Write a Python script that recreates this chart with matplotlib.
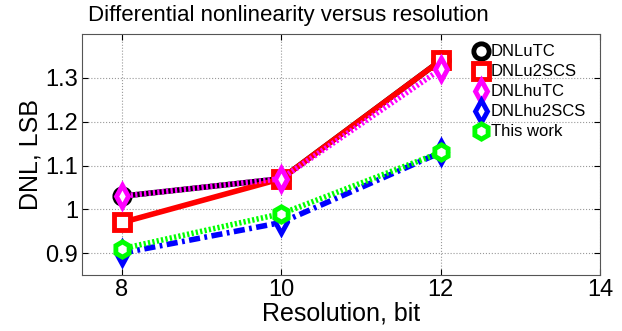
import matplotlib
matplotlib.use("Agg")
import matplotlib.pyplot as plt

plt.rcParams['font.family'] = ['Liberation Sans', 'DejaVu Sans']

resolution = [8, 10, 12]
dnl_utc = [1.03, 1.07, 1.34]
dnl_u2scs = [0.97, 1.07, 1.34]
dnl_hutc = [1.03, 1.07, 1.32]
dnl_hu2scs = [0.90, 0.97, 1.13]
this_work = [0.91, 0.99, 1.13]

xticks = [8, 10, 12, 14]
yticks = [0.9, 1.0, 1.1, 1.2, 1.3]
ytick_labels = ["0.9", "1", "1.1", "1.2", "1.3"]

fig, ax = plt.subplots(figsize=(6.22, 3.31), dpi=100)
fig.subplots_adjust(left=0.132, right=0.965, top=0.897, bottom=0.169)

mk = dict(markersize=11, markeredgewidth=3.5, markerfacecolor='white', linewidth=4)
dotted = (0, (0.4, 0.4))
dashdot = (0, (2.0, 0.8, 0.5, 0.8))
ax.plot(resolution, dnl_utc, '-', marker='o', color='black', label='DNLuTC', **mk)
ax.plot(resolution, dnl_u2scs, '-', marker='s', color='red', label='DNLu2SCS', **mk)
ax.plot(resolution, dnl_hutc, linestyle=dotted, marker='d', color='magenta', label='DNLhuTC', **mk)
ax.plot(resolution, dnl_hu2scs, linestyle=dashdot, marker='d', color='blue', label='DNLhu2SCS', **mk)
ax.plot(resolution, this_work, linestyle=dotted, marker='h', color='#00ff00', label='This work', **mk)

ax.set_xlim(7.5, 14)
ax.set_ylim(0.85, 1.4)
ax.set_xticks(xticks)
ax.set_yticks(yticks)
ax.set_yticklabels(ytick_labels)
ax.tick_params(direction='in', labelsize=17, top=True, right=True, length=4, pad=3)
ax.grid(True, linestyle=':', color='#999999', linewidth=0.8)
for s in ax.spines.values():
    s.set_color('#555555')

ax.set_xlabel("Resolution, bit", fontsize=18, labelpad=0)
ax.set_ylabel("DNL, LSB", fontsize=18, labelpad=2)
fig.text(0.463, 0.952, "Differential nonlinearity versus resolution",
         fontsize=16, ha='center', va='center')

ax.legend(loc='upper right', frameon=False, fontsize=12, handlelength=0.5,
          handletextpad=0.3, labelspacing=0.3, borderaxespad=0.0,
          bbox_to_anchor=(0.985, 0.985))

fig.savefig("out.png", dpi=100)
